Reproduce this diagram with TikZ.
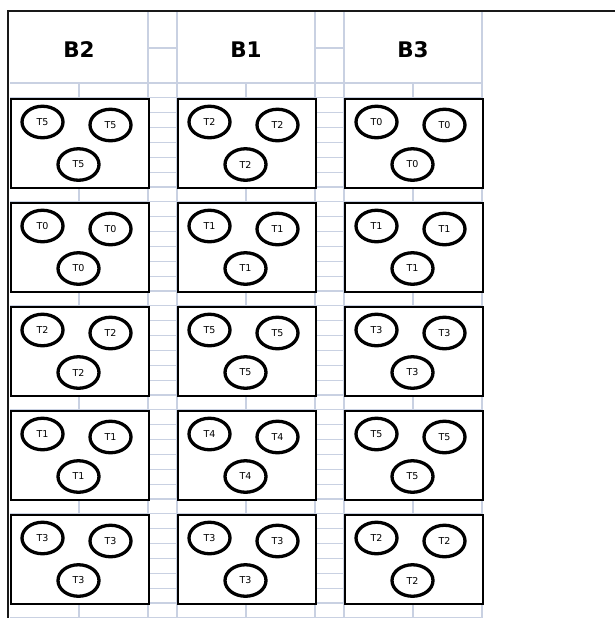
\documentclass[tikz,border=0pt]{standalone}
\usepackage{fontspec}
\setmainfont{DejaVu Sans}
\usetikzlibrary{shapes.geometric}
\definecolor{gridc}{HTML}{C9D1E2}
\begin{document}
\begin{tikzpicture}[x=1pt,y=-1pt,
  gridline/.style={draw=gridc,line width=1.1pt},
  frameline/.style={draw=black!90,line width=2.4pt},
  cellbox/.style={draw=black,line width=2.3pt,fill=white,minimum width=138pt,minimum height=89pt,inner sep=0pt,anchor=north west},
  tok/.style={ellipse,draw=black,line width=3.3pt,minimum width=41pt,minimum height=31.5pt,inner sep=0pt,font=\fontsize{9.5}{11}\selectfont},
  head/.style={font=\fontsize{21.5}{25}\selectfont\bfseries,inner sep=0pt}]
\useasboundingbox (0,0) rectangle (615,618);
\fill[white] (0,0) rectangle (615,618);
% spreadsheet grid
\foreach \x in {148,177,315,344,482} \draw[gridline] (\x,11) -- (\x,618);
\foreach \x in {79,246,413} \draw[gridline] (\x,83) -- (\x,618);
\foreach \x/\xx in {148/177,315/344} \draw[gridline] (\x,48) -- (\xx,48);
\foreach \k in {0,...,36} \draw[gridline] (10,{83+\k*14.857}) -- (482,{83+\k*14.857});
% frame
\draw[frameline] (615,11) -- (8,11) -- (8,618);
% columns
\foreach \name/\x/\labs in {B2/10/{T5,T0,T2,T1,T3}, B1/177/{T2,T1,T5,T4,T3}, B3/344/{T0,T1,T3,T5,T2}} {
  \node[head] (h-\name) at ({\x+69},49.5) {\name};
  \foreach \l [count=\r] in \labs {
    \pgfmathsetmacro{\yt}{98+104*(\r-1)}
    \node[cellbox] (box-\name-\r) at (\x,\yt) {};
    \node[tok] (e-\name-\r-a) at ({\x+32.5},{\yt+24}) {\l};
    \node[tok] (e-\name-\r-b) at ({\x+100.5},{\yt+27}) {\l};
    \node[tok] (e-\name-\r-c) at ({\x+68.5},{\yt+66.5}) {\l};
  }
}
\end{tikzpicture}
\end{document}
